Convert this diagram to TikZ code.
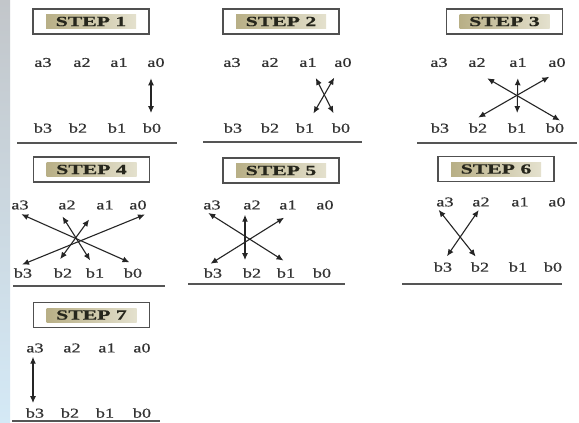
\documentclass[tikz,border=0pt]{standalone}
\usepackage{fontspec}
\usepackage{graphicx}
\setmainfont{Liberation Serif}
\newfontfamily\labfont{Liberation Serif}[FakeBold=0.5]
\newfontfamily\stepfont{Liberation Serif Bold}[FakeBold=0.6]
\usetikzlibrary{arrows.meta}
\newcommand\hsx[1]{\scalebox{1.35}[1]{#1}}
\newcommand\hst[1]{\scalebox{1.55}[1]{#1}}
\definecolor{lblc}{HTML}{333333}
\definecolor{boxc}{HTML}{505050}
\definecolor{hlL}{HTML}{B8AF86}
\definecolor{hlR}{HTML}{E4E1CE}
\definecolor{stepc}{HTML}{26261C}
\definecolor{arrc}{HTML}{252525}
\definecolor{rulec}{HTML}{555555}
\definecolor{edgeT}{HTML}{C2C6CA}
\definecolor{edgeB}{HTML}{D4E9F6}
\begin{document}
\begin{tikzpicture}[x=1pt,y=-1pt,
  lab/.style={inner sep=0pt, font=\labfont\fontsize{13.5}{13.5}\selectfont, text=lblc},
  stepbox/.style={draw=boxc, line width=1.3pt, minimum width=116pt, minimum height=25pt, inner sep=0pt},
  steptxt/.style={left color=hlL, right color=hlR, minimum width=90pt, minimum height=14pt, inner sep=0pt,
     font=\stepfont\fontsize{14}{14}\selectfont, text=stepc},
  arr/.style={{Latex[length=7pt,width=6pt]}-{Latex[length=7pt,width=6pt]}, line width=1.1pt, draw=arrc},
  rulel/.style={line width=1.4pt, draw=rulec}]
\useasboundingbox (0,0) rectangle (579,423);
\fill[white] (0,0) rectangle (579,423);
\shade[top color=edgeT, bottom color=edgeB] (0,0) rectangle (10,423);

% ---------- STEP 1 ----------
\node[stepbox] (s1) at (91,21.5) {};
\node[steptxt] (s1t) at (s1.center) {\hst{STEP 1}};
\node[lab] (p1a3) at (43,62.5) {\hsx{a3}};
\node[lab] (p1a2) at (82,62.5) {\hsx{a2}};
\node[lab] (p1a1) at (119,62.5) {\hsx{a1}};
\node[lab] (p1a0) at (156,62.5) {\hsx{a0}};
\node[lab] (p1b3) at (43,128) {\hsx{b3}};
\node[lab] (p1b2) at (78,128) {\hsx{b2}};
\node[lab] (p1b1) at (117,128) {\hsx{b1}};
\node[lab] (p1b0) at (152,128) {\hsx{b0}};
\draw[arr, shorten <=11pt, shorten >=10pt] ([xshift=-5pt]p1a0.south) -- ([xshift=-1pt]p1b0.north);
\draw[rulel] (17,143) -- (177,143);

% ---------- STEP 2 ----------
\node[stepbox] (s2) at (281,21.5) {};
\node[steptxt] (s2t) at (s2.center) {\hst{STEP 2}};
\node[lab] (p2a3) at (232,62.5) {\hsx{a3}};
\node[lab] (p2a2) at (270,62.5) {\hsx{a2}};
\node[lab] (p2a1) at (308,62.5) {\hsx{a1}};
\node[lab] (p2a0) at (343,62.5) {\hsx{a0}};
\node[lab] (p2b3) at (233,128) {\hsx{b3}};
\node[lab] (p2b2) at (270,128) {\hsx{b2}};
\node[lab] (p2b1) at (305,128) {\hsx{b1}};
\node[lab] (p2b0) at (341,128) {\hsx{b0}};
\draw[arr, shorten <=12pt, shorten >=11pt] (p2a1) -- (p2b0);
\draw[arr, shorten <=12pt, shorten >=11pt] (p2a0) -- (p2b1);
\draw[rulel] (203,142) -- (362,142);

% ---------- STEP 3 ----------
\node[stepbox] (s3) at (504.5,21.5) {};
\node[steptxt] (s3t) at (s3.center) {\hst{STEP 3}};
\node[lab] (p3a3) at (439,62.5) {\hsx{a3}};
\node[lab] (p3a2) at (477,62.5) {\hsx{a2}};
\node[lab] (p3a1) at (518,62.5) {\hsx{a1}};
\node[lab] (p3a0) at (557,62.5) {\hsx{a0}};
\node[lab] (p3b3) at (440,128) {\hsx{b3}};
\node[lab] (p3b2) at (478,128) {\hsx{b2}};
\node[lab] (p3b1) at (517,128) {\hsx{b1}};
\node[lab] (p3b0) at (555,128) {\hsx{b0}};
\draw[arr, shorten <=22pt, shorten >=5pt] (p3a2.south west) -- (p3b0.north east);
\draw[arr, shorten <=19pt, shorten >=11pt] (p3a0.south east) -- (p3b2.north west);
\draw[arr, shorten <=11pt, shorten >=10pt] (p3a1.south) -- (p3b1.north);
\draw[rulel] (417,143) -- (577,143);

% ---------- STEP 4 ----------
\node[stepbox] (s4) at (91.5,169.5) {};
\node[steptxt] (s4t) at (s4.center) {\hst{STEP 4}};
\node[lab] (p4a3) at (20,205) {\hsx{a3}};
\node[lab] (p4a2) at (67,205) {\hsx{a2}};
\node[lab] (p4a1) at (105,205) {\hsx{a1}};
\node[lab] (p4a0) at (138,205) {\hsx{a0}};
\node[lab] (p4b3) at (23,273) {\hsx{b3}};
\node[lab] (p4b2) at (63,273) {\hsx{b2}};
\node[lab] (p4b1) at (95,273) {\hsx{b1}};
\node[lab] (p4b0) at (133,273) {\hsx{b0}};
\draw[arr, shorten <=11pt, shorten >=14pt] (p4a3.south west) -- (p4b0.north east);
\draw[arr, shorten <=8pt, shorten >=9pt] (p4a2.south west) -- (p4b1.north);
\draw[arr, shorten <=12pt, shorten >=11pt] (p4a1.south west) -- (p4b2.north west);
\draw[arr, shorten <=2pt, shorten >=9pt] ([yshift=-4pt]p4a0.south east) -- (p4b3.north west);
\draw[rulel] (13,286) -- (165,286);

% ---------- STEP 5 ----------
\node[stepbox] (s5) at (281,170.5) {};
\node[steptxt] (s5t) at (s5.center) {\hst{STEP 5}};
\node[lab] (p5a3) at (212,205) {\hsx{a3}};
\node[lab] (p5a2) at (252,205) {\hsx{a2}};
\node[lab] (p5a1) at (288,205) {\hsx{a1}};
\node[lab] (p5a0) at (325,205) {\hsx{a0}};
\node[lab] (p5b3) at (213,273) {\hsx{b3}};
\node[lab] (p5b2) at (252,273) {\hsx{b2}};
\node[lab] (p5b1) at (286,273) {\hsx{b1}};
\node[lab] (p5b0) at (322,273) {\hsx{b0}};
\draw[arr, shorten <=6pt, shorten >=14pt] (p5a3.south west) -- (p5b1.north east);
\draw[arr, shorten <=5pt, shorten >=8pt] ([xshift=-7pt]p5a2.south) -- ([xshift=-7pt]p5b2.north);
\draw[arr, shorten <=15pt, shorten >=8pt] (p5a1.south east) -- (p5b3.north west);
\draw[rulel] (188,284) -- (345,284);

% ---------- STEP 6 ----------
\node[stepbox] (s6) at (496,169) {};
\node[steptxt] (s6t) at (s6.center) {\hst{STEP 6}};
\node[lab] (p6a3) at (445,202) {\hsx{a3}};
\node[lab] (p6a2) at (481,202) {\hsx{a2}};
\node[lab] (p6a1) at (520,202) {\hsx{a1}};
\node[lab] (p6a0) at (557,202) {\hsx{a0}};
\node[lab] (p6b3) at (443,267) {\hsx{b3}};
\node[lab] (p6b2) at (480,267) {\hsx{b2}};
\node[lab] (p6b1) at (518,267) {\hsx{b1}};
\node[lab] (p6b0) at (553,267) {\hsx{b0}};
\draw[arr, shorten <=4pt, shorten >=7pt] (p6a3.south west) -- (p6b2.north);
\draw[arr, shorten <=4pt, shorten >=7pt] (p6a2.south) -- (p6b3.north);
\draw[rulel] (402,284) -- (562,284);

% ---------- STEP 7 ----------
\node[stepbox] (s7) at (91.5,315) {};
\node[steptxt] (s7t) at (s7.center) {\hst{STEP 7}};
\node[lab] (p7a3) at (35,348) {\hsx{a3}};
\node[lab] (p7a2) at (72,348) {\hsx{a2}};
\node[lab] (p7a1) at (107,348) {\hsx{a1}};
\node[lab] (p7a0) at (142,348) {\hsx{a0}};
\node[lab] (p7b3) at (35,413) {\hsx{b3}};
\node[lab] (p7b2) at (70,413) {\hsx{b2}};
\node[lab] (p7b1) at (105,413) {\hsx{b1}};
\node[lab] (p7b0) at (142,413) {\hsx{b0}};
\draw[arr, shorten <=4pt, shorten >=5pt] ([xshift=-2pt]p7a3.south) -- ([xshift=-2pt]p7b3.north);
\draw[rulel] (12,421) -- (160,421);
\end{tikzpicture}
\end{document}
